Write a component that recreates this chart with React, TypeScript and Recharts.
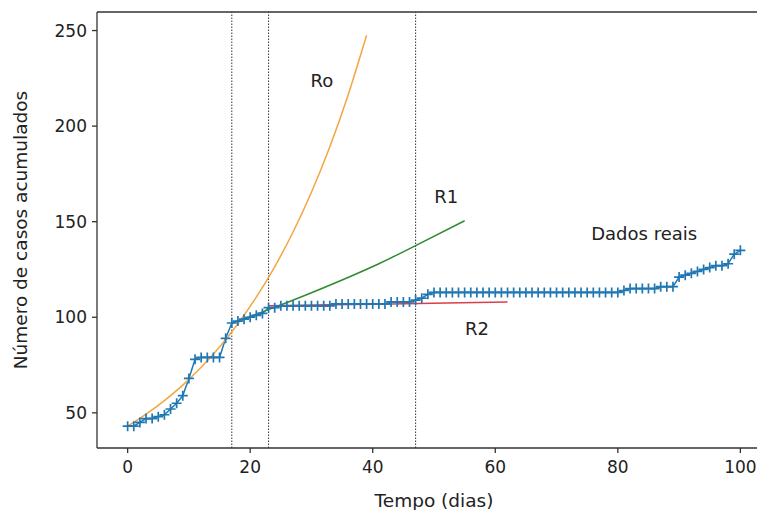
import { LineChart, Line, XAxis, YAxis, ReferenceLine, ReferenceDot } from "recharts"

// casos acumulados, um valor por dia (dias 0..100)
const casos = [
  43, 43, 45, 47, 47, 48, 49, 52, 55, 59,
  68, 78, 79, 79, 79, 79, 89, 97, 98, 99,
  100, 101, 102, 105, 105, 106, 106, 106, 106, 106,
  106, 106, 106, 106, 107, 107, 107, 107, 107, 107,
  107, 107, 107, 108, 108, 108, 108, 109, 110, 112,
  113, 113, 113, 113, 113, 113, 113, 113, 113, 113,
  113, 113, 113, 113, 113, 113, 113, 113, 113, 113,
  113, 113, 113, 113, 113, 113, 113, 113, 113, 113,
  113, 114, 115, 115, 115, 115, 115, 116, 116, 116,
  121, 122, 123, 124, 125, 126, 127, 127, 128, 133,
  135
]

const roDias = [0, 3, 6, 9, 12, 15, 18, 21, 24, 27, 30, 33, 36, 39]
const roCasos = [43, 49.3, 56.4, 64.5, 73.8, 84.4, 96.6, 110.5, 126.4, 144.6, 165.4, 189.2, 216.4, 247.5]

const r1Dias = [17, 23, 29, 35, 41, 47, 55]
const r1Casos = [97, 104, 111.5, 119.5, 128, 137.5, 150.5]

const r2Dias = [23, 33, 43, 52, 62]
const r2Casos = [106, 106.5, 107, 107.5, 108]

const cortes = [17, 23, 47]
const xTicks = [0, 20, 40, 60, 80, 100]
const yTicks = [50, 100, 150, 200, 250]

const reais = casos.map((y, i) => ({ x: i, y }))
const ro = roDias.map((x, i) => ({ x, y: roCasos[i] }))
const r1 = r1Dias.map((x, i) => ({ x, y: r1Casos[i] }))
const r2 = r2Dias.map((x, i) => ({ x, y: r2Casos[i] }))

const font = "'DejaVu Sans', sans-serif"
const yMax = 259.7

const Plus = (props: any) => {
  const { cx, cy, index } = props
  if (cx == null || cy == null) return <g key={index} />
  return (
    <path
      key={index}
      d={`M${cx - 5},${cy}h10M${cx},${cy - 5}v10`}
      stroke="#1f77b4"
      strokeWidth={1.7}
      fill="none"
    />
  )
}

const label = (text: string) => (props: any) => {
  const { viewBox } = props
  return (
    <text
      x={viewBox.cx ?? viewBox.x}
      y={viewBox.cy ?? viewBox.y}
      textAnchor="middle"
      dominantBaseline="central"
      fontSize={18}
      fontFamily={font}
      fill="#222"
    >
      {text}
    </text>
  )
}

export default function App() {
  return (
    <div style={{ position: "fixed", left: 0, top: 0, width: 757, height: 510, overflow: "hidden", background: "#fff" }}>
      <LineChart width={771} height={510} margin={{ top: 12, right: 0, bottom: 0, left: 0 }}>
        <XAxis
          dataKey="x"
          type="number"
          domain={[-5, 105]}
          ticks={xTicks}
          allowDataOverflow
          stroke="#333"
          strokeWidth={1.3}
          tickSize={5}
          tickMargin={8}
          height={62}
          tick={{ fontSize: 17, fontFamily: font, fill: "#222" }}
          label={{ value: "Tempo (dias)", position: "insideBottom", offset: 3, fontSize: 18.5, fontFamily: font, fill: "#222" }}
        />
        <YAxis
          type="number"
          domain={[31.6, yMax]}
          ticks={yTicks}
          allowDataOverflow
          stroke="#333"
          strokeWidth={1.3}
          tickSize={5}
          tickMargin={5}
          width={97}
          tick={{ fontSize: 17, fontFamily: font, fill: "#222" }}
          label={{ value: "Número de casos acumulados", angle: -90, position: "insideLeft", offset: 20, fontSize: 18.5, fontFamily: font, fill: "#222", style: { textAnchor: "middle" } }}
        />
        <ReferenceLine y={yMax} stroke="#333" strokeWidth={1.5} />
        {cortes.map((c) => (
          <ReferenceLine key={c} x={c} stroke="#333" strokeWidth={1} strokeDasharray="1.5 1.5" />
        ))}
        <Line data={reais} dataKey="y" stroke="#1f77b4" strokeWidth={1.5} dot={Plus} isAnimationActive={false} />
        <Line data={ro} dataKey="y" type="natural" stroke="#f5a540" strokeWidth={1.5} dot={false} isAnimationActive={false} />
        <Line data={r1} dataKey="y" type="natural" stroke="#2e8b2e" strokeWidth={1.5} dot={false} isAnimationActive={false} />
        <Line data={r2} dataKey="y" type="monotone" stroke="#d6404a" strokeWidth={1.5} dot={false} isAnimationActive={false} />
        <ReferenceDot x={31.7} y={224} r={0} label={label("Ro")} />
        <ReferenceDot x={52} y={163} r={0} label={label("R1")} />
        <ReferenceDot x={57} y={94} r={0} label={label("R2")} />
        <ReferenceDot x={84.3} y={144} r={0} label={label("Dados reais")} />
      </LineChart>
    </div>
  )
}
